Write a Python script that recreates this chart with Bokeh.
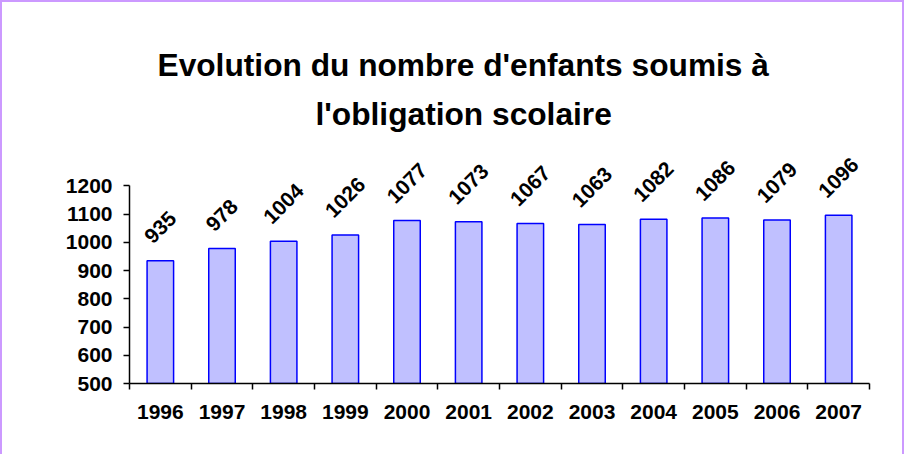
import math
from bokeh.plotting import figure
from bokeh.models import ColumnDataSource, LabelSet, Title, FixedTicker, Range1d
from bokeh.core.properties import value
from bokeh.embed import file_html
from bokeh.resources import INLINE

# ---- data ----
years = [1996, 1997, 1998, 1999, 2000, 2001, 2002, 2003, 2004, 2005, 2006, 2007]
values = [935, 978, 1004, 1026, 1077, 1073, 1067, 1063, 1082, 1086, 1079, 1096]
y_ticks = [500, 600, 700, 800, 900, 1000, 1100, 1200]
title_line1 = "Evolution du nombre d'enfants soumis à"
title_line2 = "l'obligation scolaire"

FONT = "Liberation Sans"
labels = [str(v) for v in values]
# label offset grows with label length so rotated labels sit just above bars
label_offsets = [15.5 + 0.3535 * (len(s) * 11.7 + 15) for s in labels]

source = ColumnDataSource(data=dict(x=years, top=values, text=labels, yoff=label_offsets))

def make_title(txt, offset, standoff):
    return Title(text=txt, align="left", text_font=FONT, text_font_size="31.7px",
                 text_font_style="bold", text_color="black", offset=offset, standoff=standoff)

t1 = make_title(title_line1, 28, 6)
t2 = make_title(title_line2, 186, 17)

# headroom above the 1200 tick so rotated value labels are not clipped
y_top = y_ticks[-1] + 160.7

p = figure(width=904, height=454, output_backend="svg", toolbar_location=None,
           x_range=Range1d(years[0] - 0.5, years[-1] + 0.5),
           y_range=Range1d(y_ticks[0], y_top),
           min_border_left=127, min_border_right=37, min_border_top=138, min_border_bottom=73,
           title=t1)
p.add_layout(t2, "above")

p.vbar(x="x", top="top", bottom=y_ticks[0], width=0.43, source=source,
       fill_color="#C0C0FF", line_color="#0000FF", line_width=1.5)

labelset = LabelSet(x="x", y="top", text="text", y_offset="yoff", source=source,
                    angle=math.pi / 4, text_align="center", text_baseline="middle",
                    text_font=value(FONT), text_font_size="21px", text_font_style="bold",
                    text_color="black")
p.add_layout(labelset)

p.xgrid.visible = False
p.ygrid.visible = False
p.outline_line_color = None
p.background_fill_color = "white"
p.border_fill_color = "white"

xa = p.xaxis[0]
xa.ticker = FixedTicker(ticks=years, minor_ticks=[y - 0.5 for y in years] + [years[-1] + 0.5])
xa.major_label_overrides = {y: str(y) for y in years}
xa.major_tick_in = 0
xa.major_tick_out = 0
xa.minor_tick_in = 0
xa.minor_tick_out = 6
xa.minor_tick_line_color = "black"
xa.minor_tick_line_width = 1.5
xa.axis_line_width = 1.5
xa.axis_line_color = "black"
xa.major_label_standoff = 15
xa.major_label_text_font = FONT
xa.major_label_text_font_size = "21px"
xa.major_label_text_font_style = "bold"
xa.major_label_text_color = "black"

ya = p.yaxis[0]
ya.ticker = FixedTicker(ticks=y_ticks)
ya.bounds = (y_ticks[0], y_ticks[-1])
ya.major_tick_in = 0
ya.major_tick_out = 6
ya.major_tick_line_width = 1.5
ya.minor_tick_line_color = None
ya.axis_line_width = 1.5
ya.axis_line_color = "black"
ya.major_label_standoff = 11
ya.major_label_text_font = FONT
ya.major_label_text_font_size = "21px"
ya.major_label_text_font_style = "bold"
ya.major_label_text_color = "black"

p.styles = {"border-left": "2px solid #CC99FF", "border-top": "2px solid #CC99FF",
            "border-right": "2px solid #CC99FF"}

open("out.html", "w").write(file_html(p, INLINE))
